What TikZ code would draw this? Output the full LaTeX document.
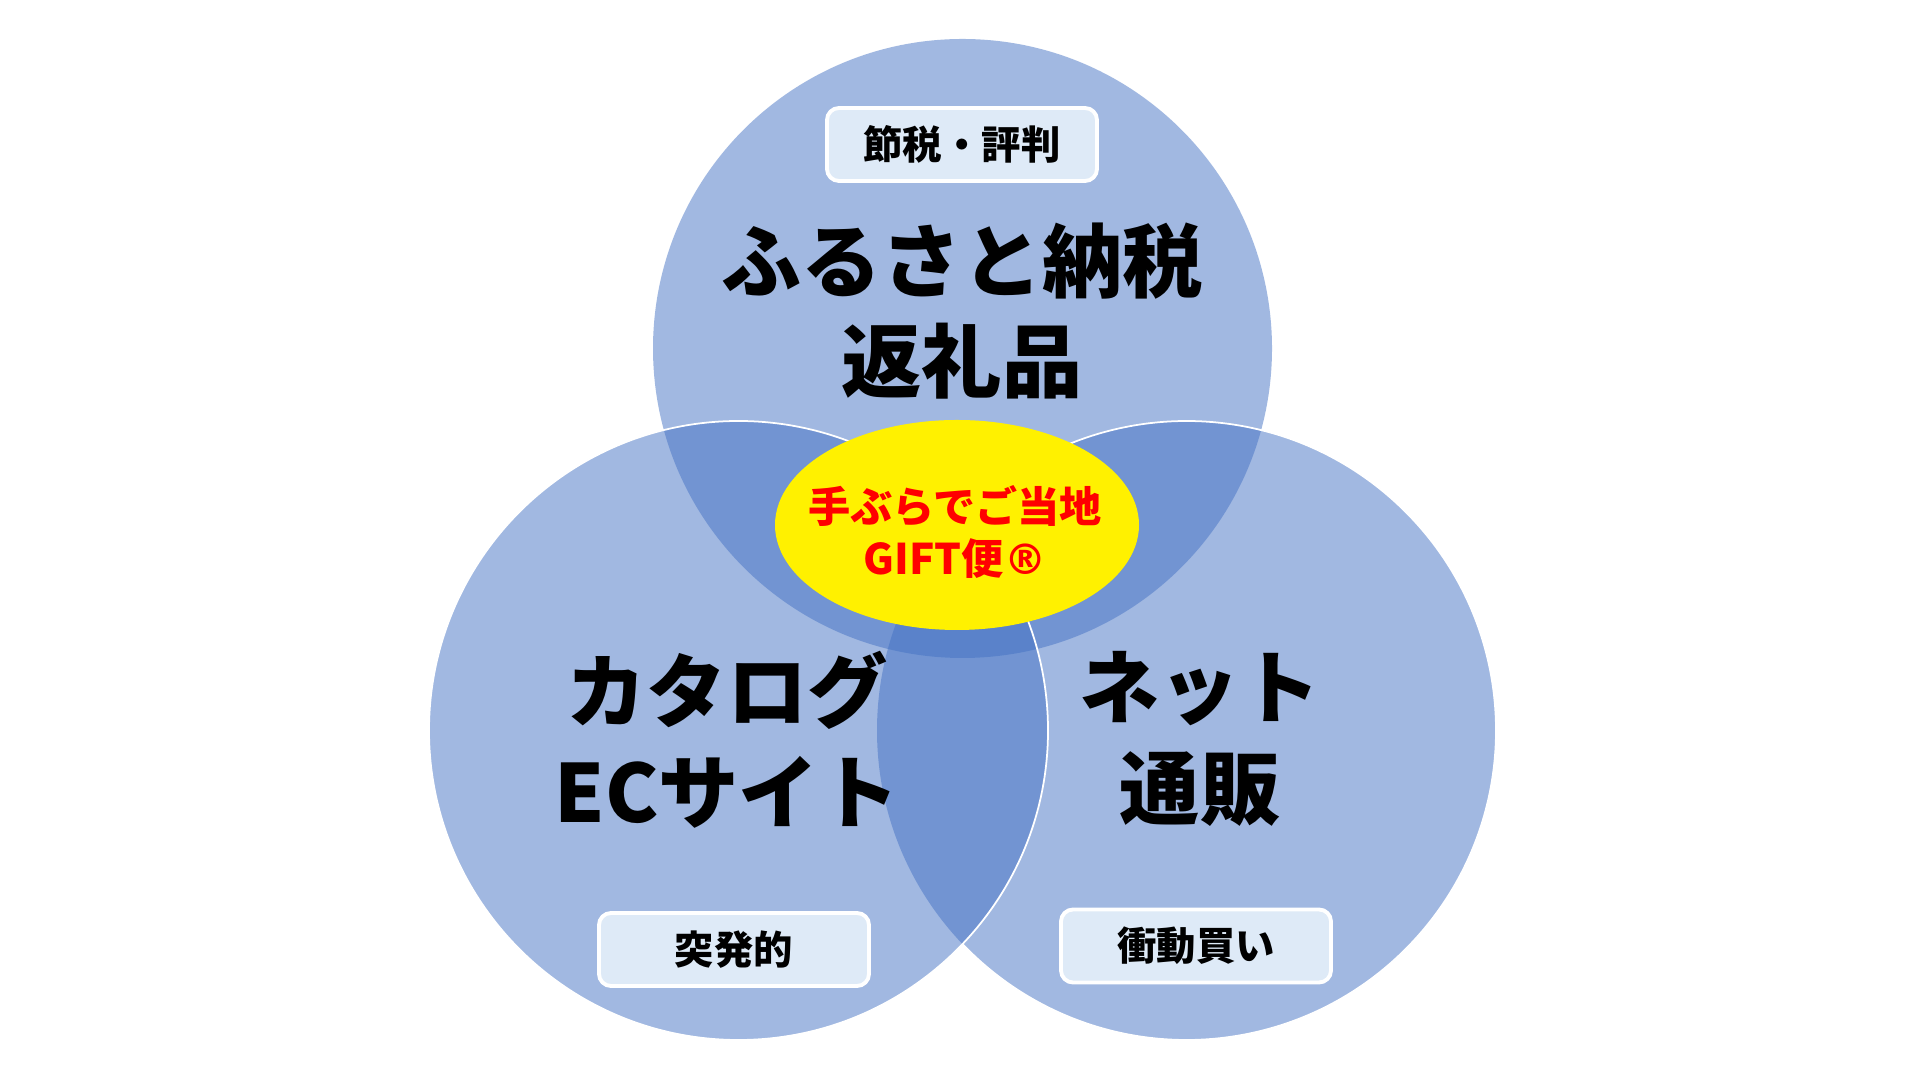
\documentclass[tikz,border=0pt]{standalone}
\usepackage{fontspec}
\setmainfont{Noto Sans CJK JP}
\newfontfamily\regfont{DejaVu Sans}
\usepackage{tikz}
\usetikzlibrary{shapes.geometric}
\definecolor{vennblue}{HTML}{4472C4}
\definecolor{tagfill}{HTML}{DEEAF7}
\definecolor{giftyellow}{HTML}{FFF100}

\begin{document}
\begin{tikzpicture}[
  venn/.style={circle,minimum size=6.19cm,inner sep=0pt,fill=vennblue,fill opacity=0.5},
  rim/.style={white,line width=0.5pt},
  tag/.style={draw=white,line width=1.1pt,fill=tagfill,rounded corners=1.2mm,minimum width=2.7cm,minimum height=0.73cm,inner sep=0pt,font=\fontsize{11.2}{13}\selectfont\bfseries},
  big/.style={align=center,font=\fontsize{22.8}{28.7}\selectfont\bfseries}]
\useasboundingbox[fill=white] (0,0) rectangle (19.2,10.8);

% the three circles
\node[venn] (furusato) at (9.625,7.315) {};
\node[venn] (net) at (11.865,3.495) {};
\node[venn] (catalog) at (7.385,3.495) {};

\draw[rim] ([shift={(136.4:3.095)}]net.center) arc[start angle=136.4,end angle=-136.4,radius=3.095];
\draw[rim] (catalog.center) circle (3.095);

% centre
\node[ellipse,fill=giftyellow,minimum width=3.64cm,minimum height=2.1cm,inner sep=0pt] (gift) at (9.57,5.55) {};
\node[align=center,text=red,font=\fontsize{12}{15}\selectfont\bfseries] (gifttext) at (9.55,5.48) {手ぶらでご当地\\GIFT便{\regfont\bfseries ®}};

\node[big] (furusatotext) at (9.62,7.69) {ふるさと納税\\返礼品};
\node[big] (catalogtext) at (7.27,3.40) {カタログ\\ECサイト};
\node[big] (nettext) at (12.00,3.415) {ネット\\通販};

\node[tag] (setsuzei) at (9.62,9.355) {節税・評判};
\node[tag] (toppatsu) at (7.34,1.305) {突発的};
\node[tag] (shodo) at (11.96,1.34) {衝動買い};
\end{tikzpicture}
\end{document}
